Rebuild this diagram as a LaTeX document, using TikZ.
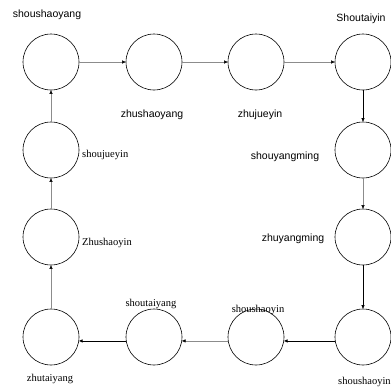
\documentclass[tikz,border=0pt]{standalone}
\usepackage{fontspec}
\setmainfont{Liberation Serif}
\newfontfamily\labelsans{Liberation Sans}
\usetikzlibrary{arrows.meta}

\tikzset{
  meridian/.style = {draw, circle, line width = .6pt, minimum size = 56pt, inner sep = 0pt},
  faint/.style = {draw = black!45, line width = .35pt, -{Triangle[length = 3.5pt, width = 3pt, black]}},
  strong/.style = {draw = black, line width = .7pt, -{Triangle[length = 3.5pt, width = 3pt]}},
  sanslabel/.style = {font = \labelsans\fontsize{10.5}{12}\selectfont, inner sep = 0pt},
  seriflabel/.style = {font = \fontsize{10.5}{12}\selectfont, inner sep = 0pt}
}

\begin{document}
\begin{tikzpicture}[line join = round, line cap = round, x = 1pt, y = -1pt]
  \useasboundingbox (0, 0) rectangle (391, 389);

  % the twelve meridians, clockwise from the top right
  \node[meridian] (M1) at (363, 62) {};
  \node[meridian] (M2) at (363, 150) {};
  \node[meridian] (M3) at (363, 237) {};
  \node[meridian] (M4) at (363, 337) {};
  \node[meridian] (M5) at (256, 337) {};
  \node[meridian] (M6) at (154, 337) {};
  \node[meridian] (M7) at (51, 337) {};
  \node[meridian] (M8) at (51, 237) {};
  \node[meridian] (M9) at (51, 150) {};
  \node[meridian] (M10) at (51, 62) {};
  \node[meridian] (M11) at (154, 62) {};
  \node[meridian] (M12) at (256, 62) {};

  % names
  \node[sanslabel] (T1) at (361, 19) {Shoutaiyin};
  \node[sanslabel] (T2) at (285, 157) {shouyangming};
  \node[sanslabel] (T3) at (293, 239) {zhuyangming};
  \node[seriflabel, anchor = west] (T4) at (338, 382) {shoushaoyin};
  \node[seriflabel] (T5) at (258, 310) {shoushaoyin};
  \node[seriflabel] (T6) at (151, 304) {shoutaiyang};
  \node[seriflabel] (T7) at (50, 379) {zhutaiyang};
  \node[seriflabel, anchor = west] (T8) at (82, 243) {Zhushaoyin};
  \node[seriflabel, anchor = west] (T9) at (82, 155) {shoujueyin};
  \node[sanslabel] (T10) at (47, 15) {shoushaoyang};
  \node[sanslabel] (T11) at (152, 115) {zhushaoyang};
  \node[sanslabel] (T12) at (260, 115) {zhujueyin};

  % flow
  \draw[strong] (M1) -- (M2);
  \draw[faint] (M2) -- (M3);
  \draw[strong] (M3) -- (M4);
  \draw[strong] (M4.188) -- (M5.-8);
  \draw[faint] (M5.188) -- (M6.-8);
  \draw[strong] (M6.188) -- (M7.-8);
  \draw[faint] (M7) -- (M8);
  \draw[faint] (M8) -- (M9);
  \draw[faint] (M9) -- (M10);
  \draw[faint] (M10) -- (M11);
  \draw[faint] (M11) -- (M12);
  \draw[faint] (M12) -- (M1);
\end{tikzpicture}
\end{document}
